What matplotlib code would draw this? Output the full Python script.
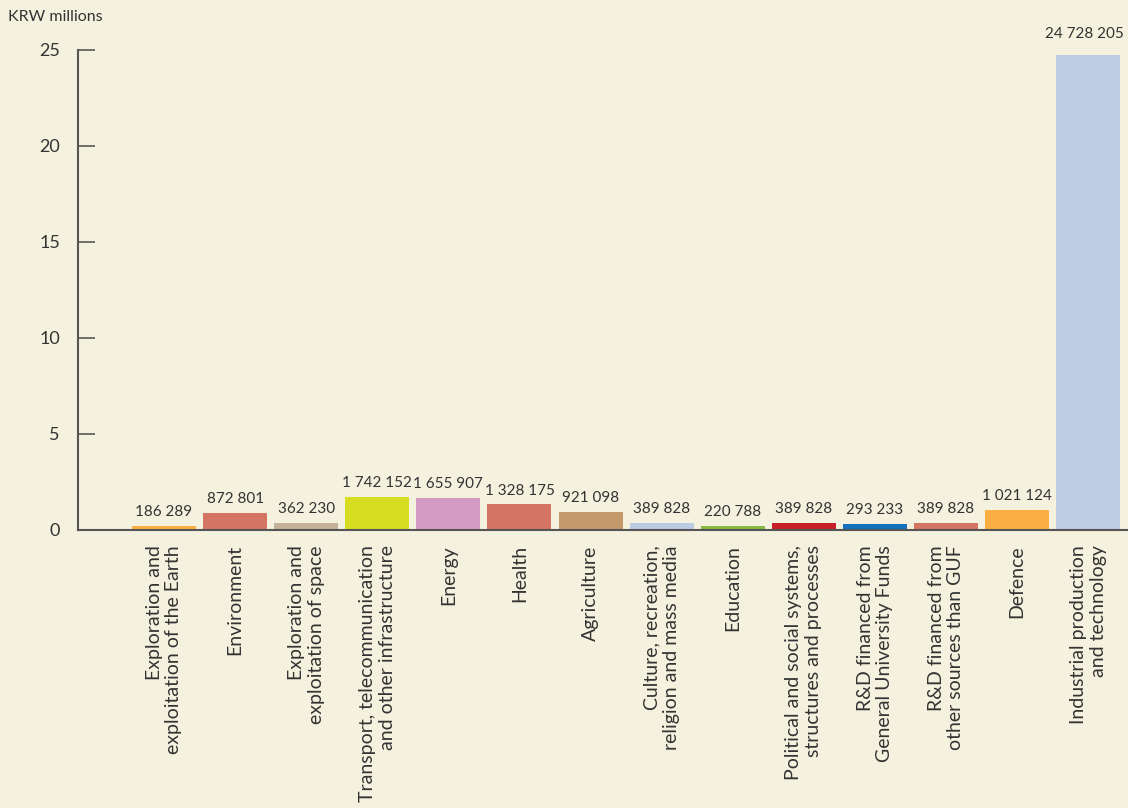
import numpy as np
import matplotlib.pyplot as plt

plt.rcParams['font.family'] = ['Lato', 'DejaVu Sans']

categories = [
    'Exploration and\nexploitation of the Earth',
    'Environment',
    'Exploration and\nexploitation of space',
    'Transport, telecommunication\nand other infrastructure',
    'Energy',
    'Health',
    'Agriculture',
    'Culture, recreation,\nreligion and mass media',
    'Education',
    'Political and social systems,\nstructures and processes',
    'R&D financed from\nGeneral University Funds',
    'R&D financed from\nother sources than GUF',
    'Defence',
    'Industrial production\nand technology',
]
values = [186289, 872801, 362230, 1742152, 1655907, 1328175, 921098,
          389828, 220788, 389828, 293233, 389828, 1021124, 24728205]
colors = ['#FBAE42', '#D47463', '#C4B29A', '#D7DE22', '#D39AC4', '#D47463',
          '#C4996B', '#BDCBE3', '#86BC43', '#C91E26', '#1271BA', '#D47463',
          '#FBAE42', '#BDCBE3']

bg = '#F4F1DE'
txt = '#333333'
axcol = '#555555'

fig = plt.figure(figsize=(11.28, 8.08), dpi=100, facecolor=bg)
ax = fig.add_axes([78 / 1128, 1 - 530 / 808, 1 - 78 / 1128, 480 / 808])
ax.set_facecolor(bg)

x = np.arange(len(values))
heights = np.array(values) / 1e6
ax.bar(x, heights, width=0.9, color=colors)

for xi, h, v in zip(x, heights, values):
    label = f'{v:,}'.replace(',', ' ')
    off = 10 if h > 20 else 5
    ax.annotate(label, (xi, h), xytext=(-3 if h > 20 else 0, off),
                textcoords='offset points', ha='center', va='bottom',
                fontsize=11, color=txt)

ax.set_xlim(-1.21, 13.56)
ax.set_ylim(0, 25)
ax.set_yticks([0, 5, 10, 15, 20, 25])
ax.tick_params(axis='y', direction='in', length=12, width=1.2, color=axcol,
               labelsize=13, labelcolor=txt, pad=13)
ax.set_xticks(x)
ax.set_xticklabels(categories, rotation=90, ha='center', va='top',
                   multialignment='right', fontsize=14, color=txt)
ax.tick_params(axis='x', length=0, pad=11)

for s in ['top', 'right']:
    ax.spines[s].set_visible(False)
for s in ['left', 'bottom']:
    ax.spines[s].set_color(axcol)
    ax.spines[s].set_linewidth(1.5)

fig.text(8 / 1128, 1 - 17 / 808, 'KRW millions', fontsize=11.5, color=txt,
         ha='left', va='center')

fig.savefig('out.png', dpi=100, facecolor=bg)
